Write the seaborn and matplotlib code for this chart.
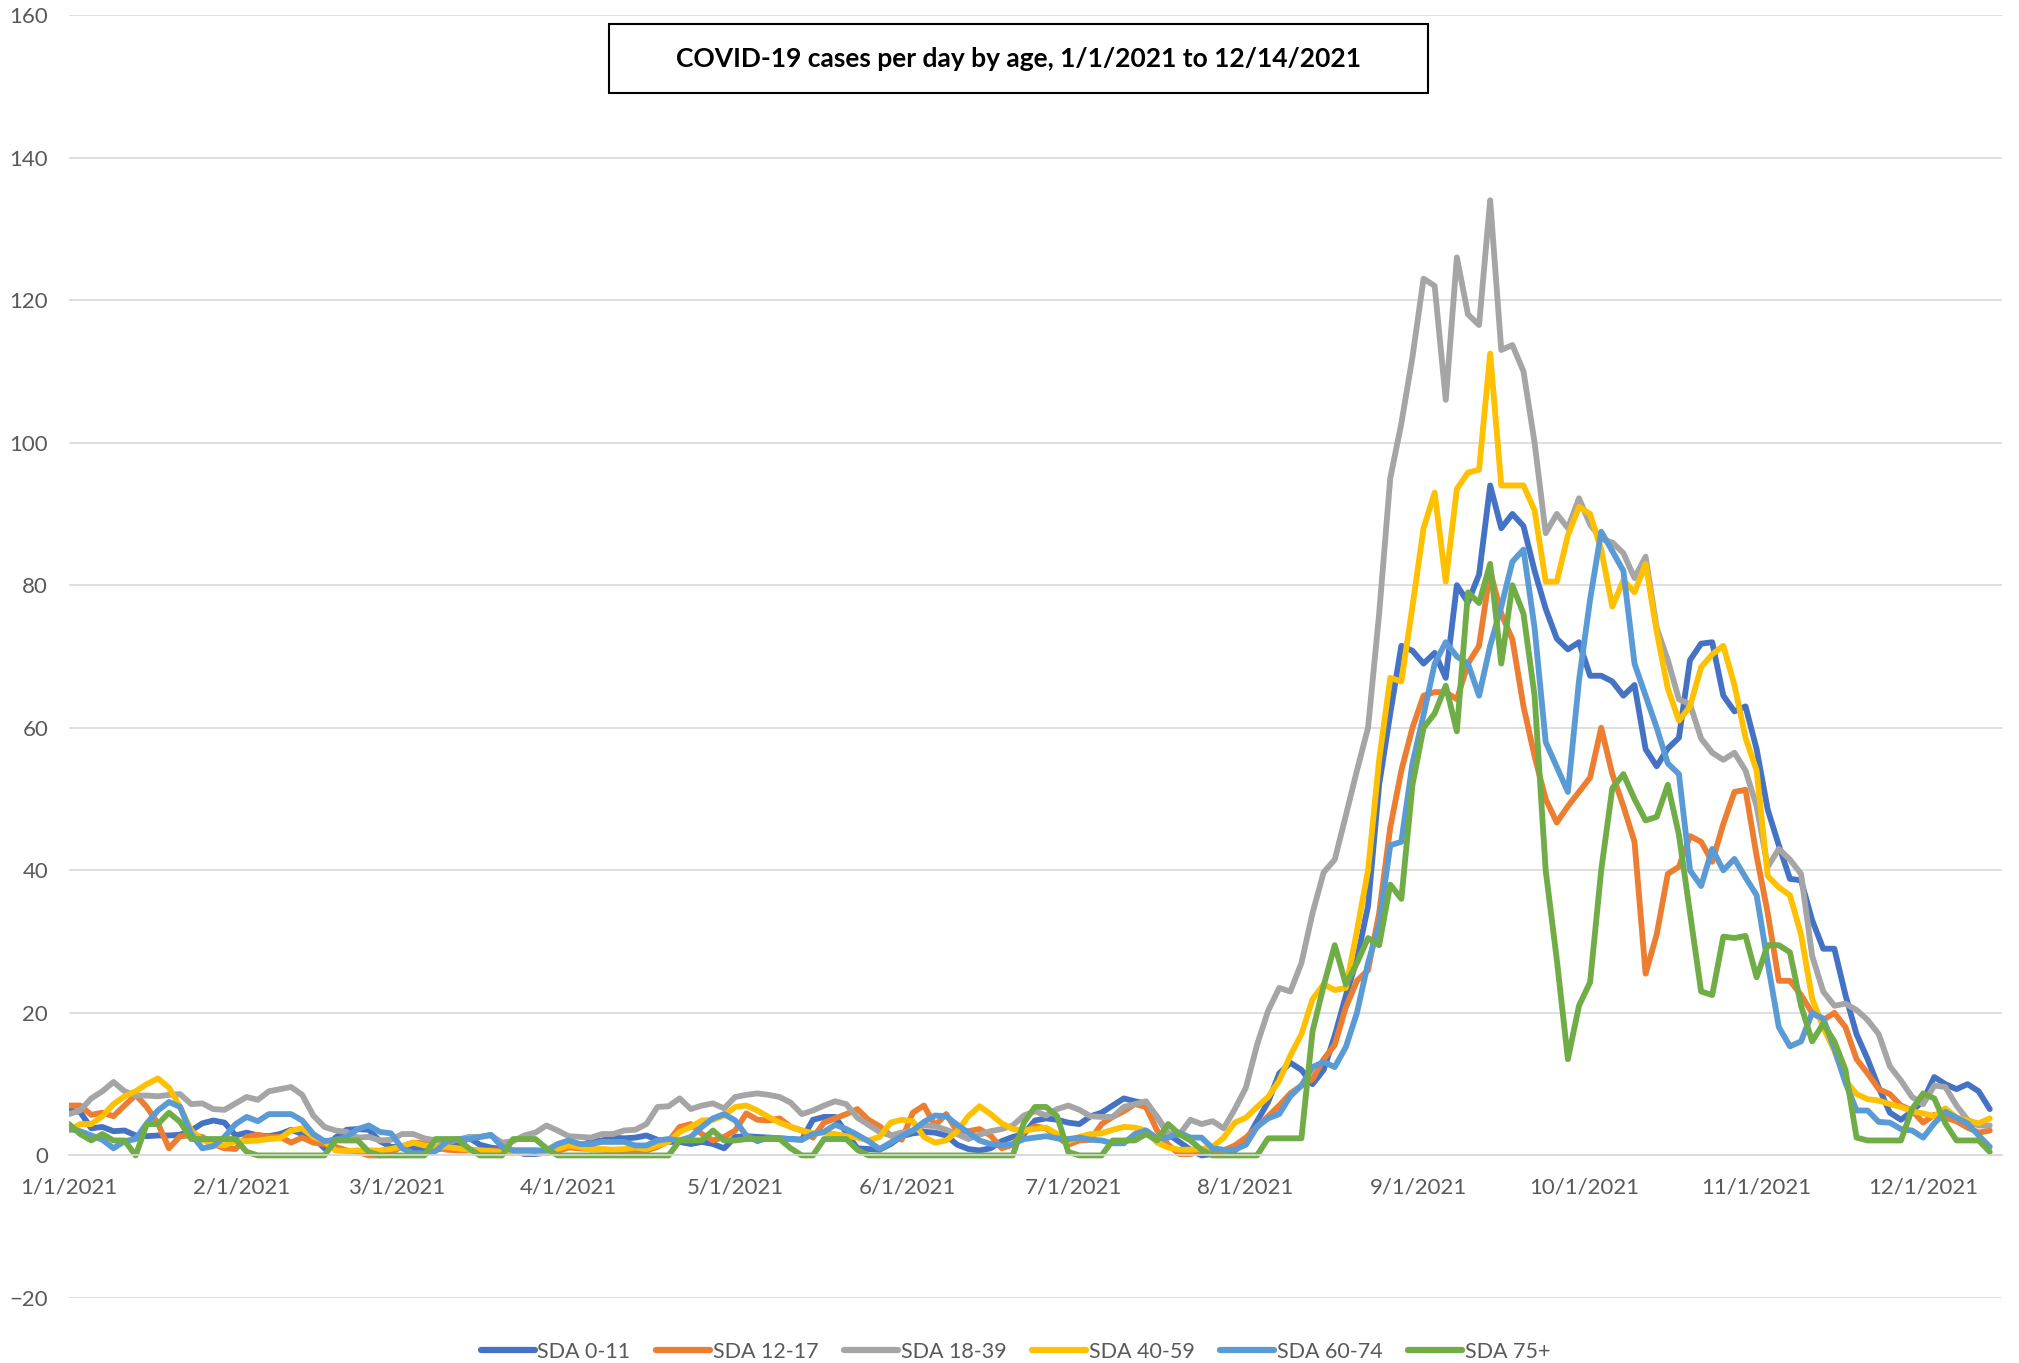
import numpy as np
import pandas as pd
import seaborn as sns
import matplotlib.pyplot as plt
from matplotlib.patches import Rectangle

# одна точка на каждые 2 дня, 1/1/2021 ... 12/13/2021 (174 точки)
dates = pd.date_range("2021-01-01", periods=174, freq="2D")

sda_0_11 = [
    6.3, 6.1, 3.8, 4.0, 3.4, 3.5, 2.8, 2.7, 2.8, 2.8, 2.9, 3.5, 4.5, 4.9, 4.6, 2.8,  # jan
    3.2, 2.8, 2.7, 3.0, 3.6, 3.0, 2.5, 1.0, 2.5, 3.6, 3.7, 3.6, 2.0, 1.2,  # feb
    1.2, 1.0, 0.9, 0.8, 1.1, 1.4, 2.5, 1.5, 1.1, 0.9, 0.7, 0.2, 0.2, 0.4, 0.9,  # mar
    1.3, 1.4, 1.9, 2.1, 2.5, 2.4, 2.5, 2.8, 2.2, 1.9, 1.9, 1.6, 1.9, 1.6, 1.0,  # apr
    2.6, 2.7, 2.6, 2.5, 2.4, 2.3, 2.2, 5.0, 5.4, 5.4, 3.2, 1.0, 0.9, 0.8, 1.6, 2.7,  # may
    3.1, 3.3, 3.2, 2.8, 1.5, 0.9, 0.7, 1.0, 2.0, 2.6, 3.0, 4.9, 5.2, 5.0, 4.6,  # jun
    4.4, 5.5, 6.0, 7.0, 8.0, 7.6, 7.3, 5.4, 3.0, 1.9, 0.8, 0.0, 0.2, 0.5, 0.7,  # jul
    2.0, 4.8, 7.5, 11.5, 13.0, 12.0, 10.0, 12.0, 16.8, 22.4, 27.5, 35.0, 52.0, 62.0, 71.5, 70.8,  # aug
    69.0, 70.5, 67.0, 80.0, 77.6, 81.5, 94.0, 88.0, 90.0, 88.3, 82.0, 76.7, 72.5, 71.0, 72.0,  # sep
    67.3, 67.3, 66.5, 64.5, 66.0, 57.0, 54.6, 57.1, 58.6, 69.5, 71.8, 72.0, 64.5, 62.3, 63.0,  # oct
    57.0, 48.5, 43.5, 38.8, 38.6, 33.0, 29.0, 29.0, 22.5, 17.0, 13.5, 9.5, 6.0, 5.0, 6.2,  # nov
    7.7, 11.0, 10.0, 9.3, 10.0, 9.0, 6.5,  # dec
]

sda_12_17 = [
    7.0, 7.0, 5.7, 6.0, 5.5, 7.0, 8.5, 6.8, 4.5, 1.0, 2.7, 2.8, 2.6, 1.6, 1.0, 0.9,
    2.6, 2.9, 2.6, 2.6, 1.8, 2.5, 1.8, 1.6, 1.2, 0.7, 0.5, 0.0, 0.0, 0.4,
    1.3, 1.8, 1.7, 1.2, 0.8, 0.7, 0.7, 0.7, 0.7, 0.7, 0.7, 0.7, 0.7, 0.3, 0.6,
    1.1, 1.0, 0.9, 0.8, 0.7, 0.7, 0.7, 0.7, 1.2, 2.0, 4.0, 4.4, 3.0, 2.1, 2.6,
    3.5, 5.9, 5.0, 4.9, 5.2, 4.0, 3.5, 2.5, 4.6, 5.2, 5.8, 6.5, 5.0, 4.1, 2.8, 2.2,
    6.0, 7.0, 4.2, 5.8, 3.4, 3.4, 3.7, 2.8, 1.0, 1.5, 3.3, 4.1, 3.8, 2.6, 1.5,
    2.1, 2.2, 4.4, 5.4, 6.2, 7.2, 6.8, 3.5, 1.5, 0.2, 0.2, 0.6, 0.7, 0.7, 1.4,
    2.5, 4.0, 5.5, 7.0, 8.7, 9.8, 10.7, 13.5, 15.5, 20.8, 24.5, 26.0, 34.0, 46.0, 54.0, 60.0,
    64.5, 65.0, 65.0, 64.0, 69.0, 71.5, 82.0, 76.0, 72.4, 63.0, 56.0, 50.0, 46.7, 49.0, 51.0,
    53.0, 60.0, 53.5, 49.0, 44.0, 25.5, 31.0, 39.5, 40.5, 44.8, 44.0, 41.2, 46.5, 51.0, 51.3,
    42.0, 34.0, 24.5, 24.5, 22.5, 20.0, 19.0, 20.0, 18.0, 13.5, 11.5, 9.3, 8.6, 7.0, 6.3,
    4.6, 5.7, 5.3, 4.8, 3.9, 3.2, 3.5,
]

sda_18_39 = [
    5.8, 6.3, 8.0, 9.0, 10.3, 9.0, 8.4, 8.4, 8.3, 8.5, 8.6, 7.2, 7.3, 6.5, 6.4, 7.3,
    8.2, 7.8, 9.0, 9.3, 9.6, 8.5, 5.6, 4.0, 3.5, 3.3, 2.5, 2.6, 2.1, 2.2,
    3.0, 3.0, 2.4, 2.1, 1.9, 2.2, 2.6, 2.6, 2.8, 1.8, 2.0, 2.8, 3.2, 4.2, 3.5,
    2.7, 2.6, 2.5, 3.0, 3.0, 3.5, 3.6, 4.4, 6.8, 6.9, 8.0, 6.5, 7.0, 7.3, 6.6,
    8.2, 8.5, 8.7, 8.5, 8.2, 7.4, 5.8, 6.3, 7.0, 7.6, 7.2, 5.3, 4.3, 3.3, 2.8, 3.2,
    3.5, 4.2, 4.1, 3.6, 3.0, 2.3, 2.9, 3.4, 3.7, 4.2, 5.6, 6.2, 5.6, 6.5, 7.0,
    6.4, 5.5, 5.4, 5.4, 6.8, 7.2, 7.6, 5.4, 3.1, 2.9, 5.0, 4.4, 4.8, 3.8, 6.5,
    9.5, 15.5, 20.3, 23.5, 23.0, 27.0, 34.0, 39.7, 41.5, 47.7, 54.0, 60.0, 76.0, 95.0, 102.7, 112.0,
    123.0, 122.0, 106.0, 126.0, 118.0, 116.5, 134.0, 113.0, 113.7, 110.0, 100.0, 87.3, 90.0, 88.0, 92.2,
    88.5, 86.5, 86.0, 84.5, 81.0, 84.0, 74.0, 69.5, 64.0, 63.3, 58.5, 56.5, 55.5, 56.5, 54.0,
    49.0, 40.5, 43.0, 41.5, 39.5, 28.0, 23.0, 21.0, 21.3, 20.4, 19.0, 17.0, 12.5, 10.5, 8.2,
    7.2, 9.8, 9.6, 7.0, 5.0, 4.2, 4.2,
]

sda_40_59 = [
    3.5, 4.4, 4.4, 5.5, 7.2, 8.3, 9.0, 10.0, 10.8, 9.5, 6.8, 3.5, 2.2, 1.6, 1.4, 2.0,
    2.0, 2.1, 2.3, 2.4, 3.5, 3.8, 2.6, 2.0, 0.7, 0.6, 0.7, 0.7, 0.7, 0.9,
    1.3, 1.8, 1.4, 1.2, 1.2, 1.0, 0.8, 0.7, 0.6, 0.4, 0.3, 0.5, 0.7, 0.5, 0.9,
    1.4, 1.2, 0.8, 0.9, 0.8, 0.9, 1.1, 0.9, 1.4, 1.9, 3.3, 4.0, 4.9, 5.0, 5.6,
    6.8, 7.0, 6.3, 5.4, 4.6, 4.0, 3.5, 3.1, 3.2, 3.0, 2.7, 2.5, 2.1, 2.6, 4.6, 5.0,
    4.8, 2.6, 1.8, 2.1, 3.4, 5.5, 6.9, 5.8, 4.5, 3.7, 3.5, 3.7, 3.9, 3.0, 2.0,
    2.6, 3.0, 3.1, 3.6, 4.0, 3.9, 3.5, 1.8, 1.1, 0.8, 0.8, 0.9, 1.2, 2.5, 4.6,
    5.3, 6.8, 8.2, 10.5, 14.0, 17.0, 21.9, 24.0, 23.2, 23.5, 31.5, 40.0, 55.5, 67.0, 66.5, 77.0,
    88.0, 93.0, 80.5, 93.5, 95.8, 96.2, 112.5, 94.0, 94.0, 94.0, 90.5, 80.5, 80.5, 87.0, 91.0,
    90.0, 85.0, 77.0, 80.7, 79.0, 83.0, 73.5, 65.5, 61.0, 63.0, 68.5, 70.3, 71.5, 66.0, 58.6,
    54.0, 39.2, 37.6, 36.5, 31.0, 22.0, 18.0, 14.7, 10.5, 8.6, 7.9, 7.7, 7.2, 6.8, 6.2,
    5.9, 5.5, 6.6, 5.3, 4.9, 4.5, 5.2,
]

sda_60_74 = [
    3.7, 3.4, 2.8, 2.2, 1.0, 2.0, 2.3, 4.5, 6.3, 7.5, 6.8, 3.0, 1.0, 1.3, 2.6, 4.4,
    5.4, 4.8, 5.8, 5.8, 5.8, 4.9, 3.0, 2.0, 2.2, 2.6, 3.7, 4.2, 3.3, 3.1,
    1.0, 0.3, 0.3, 0.6, 1.9, 2.3, 2.3, 2.6, 2.9, 1.2, 0.7, 0.7, 0.7, 0.7, 1.6,
    2.1, 1.6, 1.6, 1.9, 1.9, 1.9, 1.4, 1.4, 2.1, 2.3, 2.1, 2.6, 4.0, 5.2, 5.8,
    4.9, 2.8, 2.0, 2.5, 2.4, 2.3, 2.2, 3.0, 3.3, 4.3, 3.7, 2.9, 2.0, 0.9, 1.8, 2.7,
    3.5, 4.7, 5.6, 5.5, 4.3, 3.2, 2.1, 1.6, 1.4, 1.6, 2.3, 2.5, 2.7, 2.4, 2.3,
    2.5, 2.2, 2.1, 1.7, 1.7, 3.0, 3.5, 2.4, 2.5, 3.2, 2.5, 2.5, 1.0, 0.8, 0.8,
    1.5, 4.0, 5.2, 5.8, 8.3, 9.8, 12.4, 13.1, 12.4, 15.2, 20.0, 27.0, 32.4, 43.5, 44.0, 55.0,
    61.8, 69.0, 72.0, 70.0, 69.0, 64.5, 71.5, 77.0, 83.3, 85.0, 74.0, 58.0, 54.5, 51.0, 66.6,
    78.0, 87.5, 84.8, 82.0, 69.0, 64.5, 60.0, 55.0, 53.5, 40.0, 37.8, 43.0, 40.0, 41.6, 39.0,
    36.5, 27.0, 18.0, 15.3, 16.0, 20.0, 19.2, 15.0, 10.2, 6.3, 6.3, 4.7, 4.6, 3.7, 3.5,
    2.5, 4.5, 6.1, 5.3, 4.5, 2.8, 1.2,
]

sda_75 = [
    4.4, 3.0, 2.1, 3.0, 2.1, 2.1, 0.0, 4.4, 4.4, 6.0, 4.7, 2.3, 2.3, 2.3, 2.3, 2.3,
    0.5, 0.0, 0.0, 0.0, 0.0, 0.0, 0.0, 0.0, 2.1, 2.1, 2.1, 0.5, 0.0, 0.0,
    0.0, 0.0, 0.0, 2.3, 2.3, 2.3, 1.0, 0.0, 0.0, 0.0, 2.3, 2.3, 2.3, 1.0, 0.0,
    0.0, 0.0, 0.0, 0.0, 0.0, 0.0, 0.0, 0.0, 0.0, 0.0, 2.1, 2.1, 2.1, 3.5, 2.1,
    2.1, 2.3, 2.3, 2.3, 2.3, 1.0, 0.0, 0.0, 2.3, 2.3, 2.3, 0.8, 0.0, 0.0, 0.0, 0.0,
    0.0, 0.0, 0.0, 0.0, 0.0, 0.0, 0.0, 0.0, 0.0, 0.0, 4.6, 6.8, 6.8, 5.5, 0.5,
    0.0, 0.0, 0.0, 2.1, 2.1, 2.1, 3.0, 2.1, 4.4, 3.0, 2.1, 0.8, 0.0, 0.0, 0.0,
    0.0, 0.0, 2.4, 2.4, 2.4, 2.4, 17.4, 23.8, 29.5, 24.0, 27.0, 30.5, 29.5, 38.0, 36.0, 52.0,
    60.0, 62.0, 65.9, 59.5, 79.0, 77.5, 83.0, 69.0, 80.0, 76.0, 64.5, 40.0, 27.5, 13.5, 21.0,
    24.3, 40.0, 51.5, 53.5, 50.0, 47.0, 47.5, 52.0, 45.0, 34.0, 23.0, 22.5, 30.7, 30.5, 30.8,
    25.0, 29.5, 29.5, 28.5, 21.0, 16.0, 18.5, 16.0, 12.0, 2.5, 2.1, 2.1, 2.1, 2.1, 6.5,
    8.7, 8.0, 4.5, 2.1, 2.1, 2.1, 0.5,
]

names = ["SDA 0-11", "SDA 12-17", "SDA 18-39", "SDA 40-59", "SDA 60-74", "SDA 75+"]
colors = ["#4472C4", "#ED7D31", "#A5A5A5", "#FFC000", "#5B9BD5", "#70AD47"]
series = [sda_0_11, sda_12_17, sda_18_39, sda_40_59, sda_60_74, sda_75]

month_starts = pd.date_range("2021-01-01", "2021-12-01", freq="MS")
month_labels = [f"{d.month}/{d.day}/{d.year}" for d in month_starts]
title = "COVID-19 cases per day by age, 1/1/2021 to 12/14/2021"

sns.set_style("white")
plt.rcParams['font.family'] = ['Lato', 'DejaVu Sans']

fig = plt.figure(figsize=(20.19, 13.63), dpi=100)
ax = fig.add_axes([0.0342, 0.0477, 0.9574, 0.9413])

for name, col, vals in zip(names, colors, series):
    sns.lineplot(x=dates, y=vals, color=col, label=name, linewidth=4.2, ax=ax,
                 solid_joinstyle="round", solid_capstyle="round")

ax.set_ylim(-20, 160)
ax.set_yticks(np.arange(-20, 161, 20))
ax.set_xlim(pd.Timestamp("2021-01-01"), pd.Timestamp("2021-12-15 05:00"))
ax.set_xticks(month_starts)
ax.set_xticklabels(month_labels)
ax.yaxis.grid(True, color="#D9D9D9", linewidth=1.2)
ax.xaxis.grid(False)
for s in ["left", "right", "top"]:
    ax.spines[s].set_visible(False)
ax.spines["bottom"].set_position(("data", 0))
ax.spines["bottom"].set_color("#D9D9D9")
ax.spines["bottom"].set_linewidth(1.2)
ax.tick_params(axis="x", direction="out", length=6, width=1.2, color="#D9D9D9",
               pad=10, labelsize=16, labelcolor="#595959")
ax.tick_params(axis="y", length=0, pad=15, labelsize=16, labelcolor="#595959")
ax.set_xlabel("")
ax.set_ylabel("")

ax.legend(loc="center", bbox_to_anchor=(0.503, 0.0082), bbox_transform=fig.transFigure,
          ncol=6, frameon=False, fontsize=15.5, handlelength=2.5, handletextpad=0.12,
          columnspacing=1.2, labelcolor="#595959")
for h in ax.get_legend().get_lines():
    h.set_linewidth(4.5)

# рамка заголовка
fig.add_artist(Rectangle((0.3016, 0.9318), 0.4056, 0.0506, transform=fig.transFigure,
                         facecolor="white", edgecolor="black", linewidth=1.5, zorder=5))
fig.text(0.5045, 0.957, title, ha="center", va="center", fontsize=19,
         fontweight="bold", color="black", zorder=6)

fig.savefig("out.png", dpi=100)
